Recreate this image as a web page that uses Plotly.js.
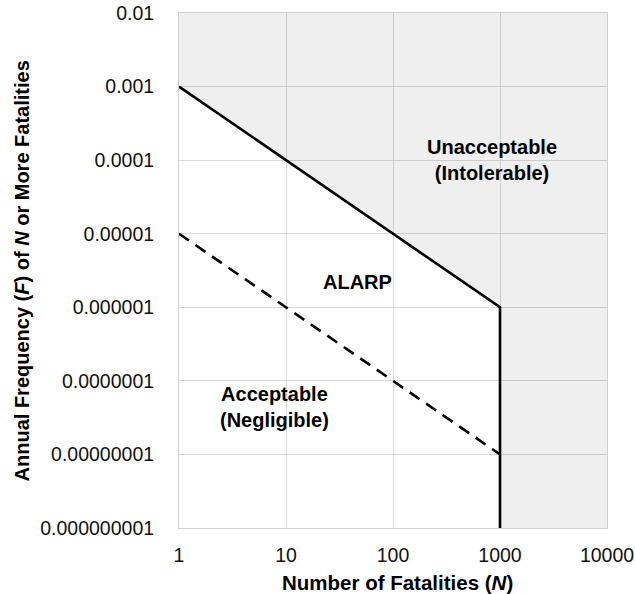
<!DOCTYPE html>
<html><head><meta charset="utf-8">
<script src="https://cdn.plot.ly/plotly-3.0.1.min.js"></script>
<style>html,body{margin:0;padding:0;background:#fff}#chart{width:635px;height:594px}</style>
</head><body><div id="chart"></div>
<script>
// Tick values and labels
const xTickVals = [1, 10, 100, 1000, 10000];
const xTickText = ["1", "10", "100", "1000", "10000"];
const yTickVals = [1e-2, 1e-3, 1e-4, 1e-5, 1e-6, 1e-7, 1e-8, 1e-9];
const yTickText = ["0.01", "0.001", "0.0001", "0.00001", "0.000001", "0.0000001", "0.00000001", "0.000000001"];
// Criterion lines (N, F)
const upperN = [1, 1000, 1000];
const upperF = [1e-3, 1e-6, 1e-9];
const lowerN = [1, 1000];
const lowerF = [1e-5, 1e-8];
// Axis extents
const xMin = 1, xMax = 10000, yMin = 1e-9, yMax = 1e-2;

const fillX = [xMin].concat(upperN, [xMax, xMax]);
const fillY = [yMax].concat(upperF, [yMin, yMax]);

const font = "Liberation Sans, Arial, sans-serif";
const traces = [
  {x: fillX, y: fillY, type: 'scatter', mode: 'lines', fill: 'toself',
   fillcolor: 'rgba(0,0,0,0.063)', line: {width: 0}, hoverinfo: 'skip', showlegend: false},
  {x: upperN, y: upperF, type: 'scatter', mode: 'lines',
   line: {color: '#000', width: 2.6}, showlegend: false},
  {x: lowerN, y: lowerF, type: 'scatter', mode: 'lines',
   line: {color: '#000', width: 2.6, dash: '12px,8px'}, showlegend: false}
];

const axisCommon = {
  type: 'log', showgrid: true, gridcolor: '#d9d9d9', gridwidth: 1,
  showline: true, mirror: true, linecolor: '#d0d0d0', linewidth: 1,
  zeroline: false, ticks: '', tickmode: 'array',
  tickfont: {family: font, size: 19.5, color: '#111'}
};

const layout = {
  width: 635, height: 594,
  margin: {l: 179, r: 28, t: 13, b: 66, pad: 0},
  paper_bgcolor: '#fff', plot_bgcolor: '#fff',
  xaxis: Object.assign({}, axisCommon, {
    range: [Math.log10(xMin), Math.log10(xMax)],
    tickvals: xTickVals, ticktext: xTickText, ticklabelstandoff: 10
  }),
  yaxis: Object.assign({}, axisCommon, {
    range: [Math.log10(yMin), Math.log10(yMax)],
    tickvals: yTickVals, ticktext: yTickText, ticklabelstandoff: 20
  }),
  annotations: [
    {text: '<b>Unacceptable<br>(Intolerable)</b>', xref: 'x', yref: 'y', x: 2.925, y: -4,
     showarrow: false, font: {family: font, size: 20, color: '#000'}},
    {text: '<b>ALARP</b>', xref: 'x', yref: 'y', x: 1.664, y: -5.663,
     showarrow: false, font: {family: font, size: 20, color: '#000'}},
    {text: '<b>Acceptable<br>(Negligible)</b>', xref: 'x', yref: 'y', x: 0.897, y: -7.352,
     showarrow: false, font: {family: font, size: 20, color: '#000'}},
    {text: '<b>Number of Fatalities (<i>N</i>)</b>', xref: 'paper', yref: 'paper', x: 0.51, y: -0.105,
     xanchor: 'center', yanchor: 'middle', showarrow: false, font: {family: font, size: 20.5, color: '#000'}},
    {text: '<b>Annual Frequency (<i>F</i>) of <i>N</i> or More Fatalities</b>', xref: 'paper', yref: 'paper',
     x: -0.367, y: 0.5, xanchor: 'center', yanchor: 'middle', textangle: -90, showarrow: false,
     font: {family: font, size: 20, color: '#000'}}
  ]
};

Plotly.newPlot('chart', traces, layout, {displayModeBar: false, staticPlot: true});
</script>
</body></html>
